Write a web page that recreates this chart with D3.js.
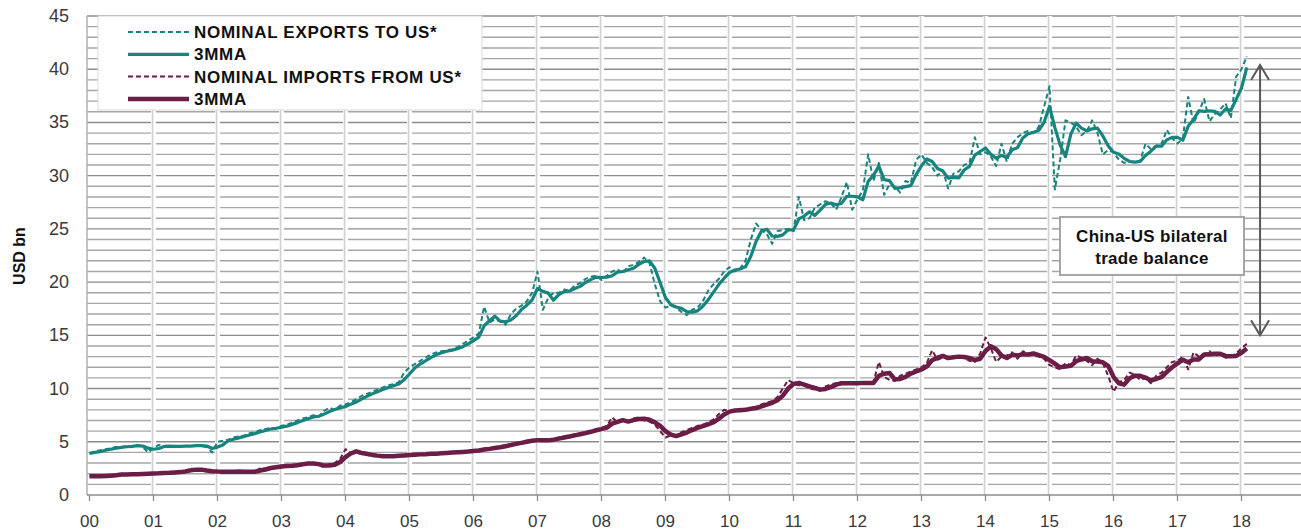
<!DOCTYPE html>
<html>
<head>
<meta charset="utf-8">
<script src="https://d3js.org/d3.v7.min.js"></script>
<style>
  body { margin: 0; background: #fff; }
  text { font-family: "Liberation Sans", Arial, sans-serif; }
</style>
</head>
<body>
<script>
// monthly data, Jan 2000 .. Feb 2018 (USD bn)
const startYear = 2000;
const yearLabels = ["00","01","02","03","04","05","06","07","08","09","10","11","12","13","14","15","16","17","18"];
const yTickValues = [0, 5, 10, 15, 20, 25, 30, 35, 40, 45];

const exportsToUS = [
  3.9, 4.1, 4.2, 4.3, 4.4, 4.5, 4.5, 4.6, 4.6, 4.7, 4.5, 4.0,
  4.4, 4.7, 4.6, 4.5, 4.6, 4.6, 4.6, 4.6, 4.7, 4.6, 4.5, 4.0,
  5.0, 5.1, 5.2, 5.4, 5.5, 5.6, 5.8, 5.9, 6.1, 6.2, 6.3, 6.3,
  6.5, 6.6, 6.8, 7.0, 7.2, 7.3, 7.5, 7.4, 7.9, 8.2, 8.0, 8.4,
  8.5, 8.7, 9.0, 9.3, 9.5, 9.7, 9.9, 10.1, 10.3, 10.4, 10.6, 11.5,
  12.0, 12.3, 12.6, 12.9, 13.2, 13.4, 13.5, 13.6, 13.7, 13.9, 14.2, 14.5,
  14.8, 15.2, 17.7, 16.2, 16.5, 16.3, 16.0, 17.0, 17.5, 17.8, 18.2, 19.0,
  21.0, 17.4, 18.5, 19.0, 19.0, 19.3, 19.2, 19.7, 19.9, 20.3, 20.5, 20.6,
  20.2, 20.6, 21.0, 21.2, 20.8, 21.5, 21.6, 21.9, 22.3, 21.8, 19.8, 18.2,
  17.6, 17.8, 17.6, 17.2, 16.9, 17.4, 17.6, 18.2, 19.2, 19.8, 20.3, 21.0,
  21.4, 21.0, 21.3, 22.0, 24.0, 25.5, 24.9, 24.5, 23.6, 24.8, 24.9, 25.0,
  24.8, 28.0, 25.8, 26.0, 27.0, 27.3, 27.6, 27.4, 26.8, 28.0, 29.4, 26.8,
  27.8, 28.6, 32.0, 29.5, 31.2, 28.2, 29.2, 29.0, 28.4, 29.5, 29.3, 31.5,
  32.0, 31.2, 30.8, 30.0, 30.5, 28.8, 30.2, 30.4, 31.0, 31.2, 33.6, 32.0,
  32.2, 31.8, 30.9, 33.0, 31.3, 33.0, 33.6, 34.0, 34.2, 34.0, 34.6, 36.5,
  38.4, 28.7, 31.5, 35.2, 35.0, 34.6, 33.8, 34.2, 35.2, 34.0, 32.0, 32.4,
  32.2, 31.5, 31.2, 31.3, 31.3, 31.4, 33.0, 32.5, 32.8, 33.0, 34.3, 33.5,
  33.0, 33.5, 37.4, 34.9, 36.0, 37.2, 35.1, 35.8, 36.2, 36.8, 35.4, 39.3,
  40.0, 41.2
];

const importsFromUS = [
  1.75, 1.75, 1.8, 1.8, 1.85, 1.9, 2.0, 1.9, 1.95, 2.0, 2.0, 2.0,
  2.05, 2.05, 2.1, 2.1, 2.15, 2.2, 2.3, 2.45, 2.4, 2.3, 2.2, 2.2,
  2.2, 2.15, 2.2, 2.2, 2.2, 2.15, 2.2, 2.2, 2.5, 2.5, 2.6, 2.7,
  2.75, 2.7, 2.8, 2.9, 2.95, 3.0, 2.9, 2.8, 2.6, 2.9, 3.0, 3.4,
  4.3, 4.0, 4.0, 3.85, 3.75, 3.7, 3.65, 3.6, 3.65, 3.7, 3.7, 3.75,
  3.8, 3.8, 3.85, 3.85, 3.9, 3.9, 3.95, 4.0, 4.0, 4.05, 4.1, 4.1,
  4.2, 4.25, 4.35, 4.4, 4.5, 4.55, 4.7, 4.8, 4.9, 5.0, 5.1, 5.2,
  5.1, 5.1, 5.2, 5.3, 5.4, 5.5, 5.6, 5.7, 5.8, 5.95, 6.05, 6.2,
  6.3, 6.5, 7.3, 6.8, 7.0, 6.9, 7.2, 7.3, 7.0, 6.9, 6.6, 6.0,
  5.4, 5.6, 5.6, 5.9, 6.1, 6.3, 6.5, 6.6, 6.8, 7.1, 7.6, 8.0,
  7.9, 7.9, 8.1, 8.0, 8.2, 8.3, 8.5, 8.7, 8.8, 9.2, 10.0, 10.8,
  10.5, 10.3, 10.3, 10.0, 9.9, 9.8, 10.2, 10.4, 10.5, 10.6, 10.4, 10.5,
  10.6, 10.5, 10.5, 10.6, 12.5, 11.1, 10.8, 10.7, 11.2, 11.4, 11.6, 11.8,
  12.0, 12.4, 13.6, 12.7, 12.9, 13.0, 12.9, 13.1, 12.9, 12.6, 12.5, 13.3,
  14.8, 13.8, 12.5, 13.0, 13.1, 13.4, 12.8, 13.5, 13.3, 13.1, 13.0, 12.8,
  12.2, 12.0, 11.8, 12.4, 12.2, 13.1, 12.9, 12.6, 12.2, 12.8, 12.4, 11.2,
  9.7, 10.6, 10.8, 11.5, 11.3, 10.8, 11.0, 10.5, 11.2, 11.5, 12.0, 12.5,
  12.6, 13.0, 11.8, 13.4, 13.0, 13.2, 13.5, 13.1, 13.2, 12.9, 13.0, 13.3,
  13.8, 14.2
];

const legendLabels = ["NOMINAL EXPORTS TO US*", "3MMA", "NOMINAL IMPORTS FROM US*", "3MMA"];
const noteLines = ["China-US bilateral", "trade balance"];
const arrowSpan = { year: 2018.29, from: 15.0, to: 40.4 };

const teal = "#17847d";
const maroon = "#6b1d45";

// trailing 3-month moving average
function mma3(arr) {
  return arr.map((d, i) => d3.mean(arr.slice(Math.max(0, i - 2), i + 1)));
}

const width = 1301, height = 531;
const plotLeft = 87, plotRight = 1301, plotTop = 16, plotBottom = 495;

const x = d3.scaleLinear().domain([2000, 2019]).range([89.5, 89.5 + 19 * 64]);
const y = d3.scaleLinear().domain([0, 45]).range([plotBottom, plotTop]);

const svg = d3.select("body").append("svg")
  .attr("width", width)
  .attr("height", height);

// horizontal grid, one line per unit
const grid = svg.append("g");
grid.selectAll("line.h")
  .data(d3.range(1, 46))
  .enter().append("line")
  .attr("x1", plotLeft).attr("x2", plotRight)
  .attr("y1", d => y(d)).attr("y2", d => y(d))
  .attr("stroke", d => d % 5 === 0 ? "#8c8c8c" : "#a6a6a6")
  .attr("stroke-width", 1.4);

// vertical year grid
const years = d3.range(1, yearLabels.length).map(i => startYear + i);
grid.selectAll("line.vw")
  .data(years)
  .enter().append("line")
  .attr("x1", d => x(d)).attr("x2", d => x(d))
  .attr("y1", plotTop).attr("y2", plotBottom)
  .attr("stroke", "#fff")
  .attr("stroke-width", 5);
grid.selectAll("line.vg")
  .data(years)
  .enter().append("line")
  .attr("x1", d => x(d) - 1).attr("x2", d => x(d) - 1)
  .attr("y1", plotTop).attr("y2", plotBottom)
  .attr("stroke", "#cfcfcf")
  .attr("stroke-width", 1.6);

// axes
svg.append("line")
  .attr("x1", plotLeft).attr("x2", plotLeft)
  .attr("y1", plotTop).attr("y2", plotBottom)
  .attr("stroke", "#b0b0b0").attr("stroke-width", 1.5);
svg.append("line")
  .attr("x1", plotLeft).attr("x2", plotRight)
  .attr("y1", plotBottom).attr("y2", plotBottom)
  .attr("stroke", "#8c8c8c").attr("stroke-width", 1.6);

svg.selectAll("line.tick")
  .data(yearLabels)
  .enter().append("line")
  .attr("x1", (d, i) => x(startYear + i)).attr("x2", (d, i) => x(startYear + i))
  .attr("y1", plotBottom).attr("y2", plotBottom + 6)
  .attr("stroke", "#8c8c8c").attr("stroke-width", 1.3);

svg.selectAll("text.xl")
  .data(yearLabels)
  .enter().append("text")
  .attr("x", (d, i) => x(startYear + i))
  .attr("y", 527)
  .attr("text-anchor", "middle")
  .attr("font-size", "17px")
  .attr("fill", "#3a3a3a")
  .text(d => d);

svg.selectAll("text.yl")
  .data(yTickValues)
  .enter().append("text")
  .attr("x", 69)
  .attr("y", d => y(d) + 6)
  .attr("text-anchor", "end")
  .attr("font-size", "18px")
  .attr("fill", "#3a3a3a")
  .text(d => d);

svg.append("text")
  .attr("transform", "translate(25,256) rotate(-90)")
  .attr("text-anchor", "middle")
  .attr("font-size", "16px")
  .attr("font-weight", "bold")
  .attr("fill", "#111")
  .text("USD bn");

// series
const line = d3.line()
  .x((d, i) => x(startYear + i / 12))
  .y(d => y(d));

const series = [
  { values: exportsToUS, color: teal, w: 2, dash: "5,3" },
  { values: mma3(exportsToUS), color: teal, w: 3.2, dash: null },
  { values: importsFromUS, color: maroon, w: 2, dash: "5,3" },
  { values: mma3(importsFromUS), color: maroon, w: 4.5, dash: null }
];

svg.selectAll("path.series")
  .data(series)
  .enter().append("path")
  .attr("d", d => line(d.values))
  .attr("fill", "none")
  .attr("stroke", d => d.color)
  .attr("stroke-width", d => d.w)
  .attr("stroke-dasharray", d => d.dash)
  .attr("stroke-linejoin", "round");

// legend
const legend = svg.append("g");
legend.append("rect")
  .attr("x", 98).attr("y", 16)
  .attr("width", 384).attr("height", 94)
  .attr("fill", "#fff")
  .attr("stroke", "#d9d9d9");

const items = legend.selectAll("g.item")
  .data(series)
  .enter().append("g")
  .attr("transform", (d, i) => `translate(128,${32 + i * 22.3})`);

items.append("line")
  .attr("x1", 0).attr("x2", 61)
  .attr("stroke", d => d.color)
  .attr("stroke-width", d => d.w)
  .attr("stroke-dasharray", d => d.dash);

items.append("text")
  .attr("x", 66).attr("y", 6)
  .attr("font-size", "17px")
  .attr("font-weight", "bold")
  .attr("letter-spacing", "0.7px")
  .attr("fill", "#111")
  .text((d, i) => legendLabels[i]);

// annotation box
svg.append("rect")
  .attr("x", 1060).attr("y", 217)
  .attr("width", 184).attr("height", 58)
  .attr("fill", "#fff")
  .attr("stroke", "#a6a6a6")
  .attr("stroke-width", 2);

svg.selectAll("text.note")
  .data(noteLines)
  .enter().append("text")
  .attr("x", 1152)
  .attr("y", (d, i) => 242 + i * 21.5)
  .attr("text-anchor", "middle")
  .attr("font-size", "17px")
  .attr("font-weight", "bold")
  .attr("letter-spacing", "0.3px")
  .attr("fill", "#111")
  .text(d => d);

// double-headed arrow
const ax = x(arrowSpan.year), ay1 = y(arrowSpan.to), ay2 = y(arrowSpan.from);
const arrow = svg.append("g")
  .attr("stroke", "#595959")
  .attr("stroke-width", 2)
  .attr("fill", "none");
arrow.append("line")
  .attr("x1", ax).attr("x2", ax)
  .attr("y1", ay1).attr("y2", ay2);
arrow.append("path")
  .attr("d", `M${ax - 9},${ay1 + 15}L${ax},${ay1}L${ax + 9},${ay1 + 15}`);
arrow.append("path")
  .attr("d", `M${ax - 9},${ay2 - 15}L${ax},${ay2}L${ax + 9},${ay2 - 15}`);
</script>
</body>
</html>
